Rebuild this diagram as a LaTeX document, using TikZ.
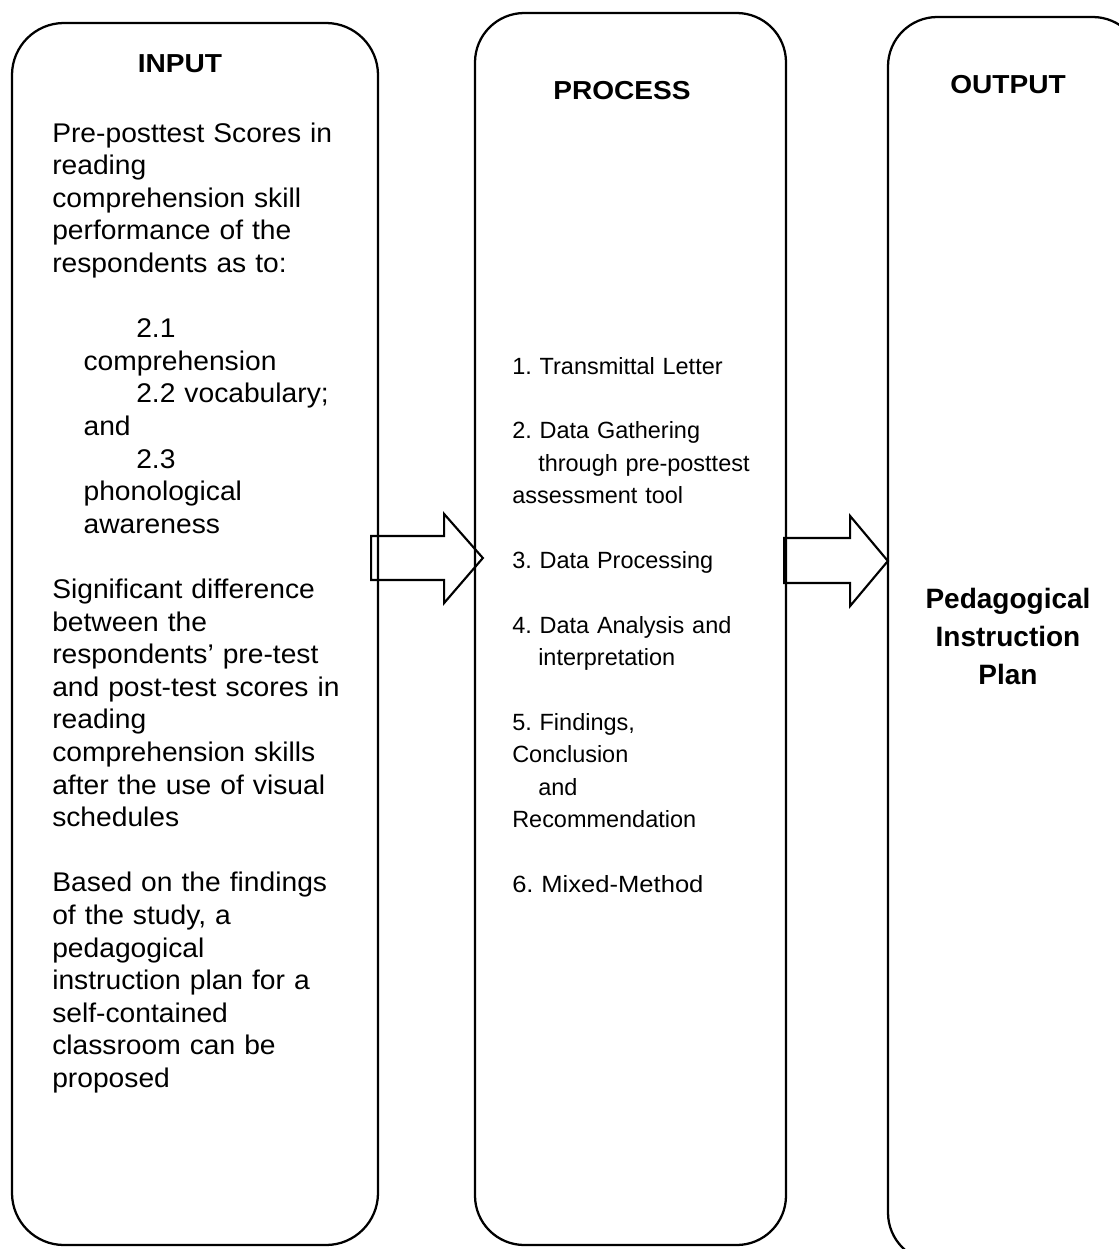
\documentclass[tikz,border=0pt]{standalone}
\usepackage{fontspec}
\setmainfont{Liberation Sans}
\newfontfamily\titlefont[FakeStretch=1.08]{Liberation Sans}
\newfontfamily\inputfont[FakeStretch=1.045]{Liberation Sans}
\usetikzlibrary{calc}
\frenchspacing
\begin{document}
\begin{tikzpicture}[x=0.75pt,y=-0.75pt,
  box/.style={draw=black,line width=1.7pt,rounded corners=39pt,minimum width=#1},
  blockarr/.style={draw=black,line width=1.6pt,line join=miter},
  titletxt/.style={font=\titlefont\bfseries\fontsize{19.5pt}{23pt}\selectfont,inner sep=0pt,anchor=base},
  intext/.style={font=\inputfont\fontsize{20.25pt}{24.45pt}\selectfont,inner sep=0pt,anchor=base west,text width=250pt,align=left},
  proctext/.style={font=\fontsize{17.6pt}{24.3pt}\selectfont,inner sep=0pt,anchor=base west,text width=210pt,align=left},
  outtext/.style={font=\bfseries\fontsize{21pt}{28.5pt}\selectfont,inner sep=0pt,anchor=base,text width=190pt,align=center}]
\useasboundingbox (0,0) rectangle (1119,1249);
\clip (0,0) rectangle (1119,1249);
% boxes
\node[box=274.5pt,minimum height=916.5pt] (inbox) at (195,634) {};
\node[box=233.25pt,minimum height=924pt,rounded corners=37pt] (procbox) at (630.5,629) {};
\node[box=190.5pt,minimum height=933.75pt,rounded corners=37pt] (outbox) at (1015,639.5) {};
% titles
\node[titletxt] (tin) at (180,72) {INPUT};
\node[titletxt] (tproc) at (622,99) {PROCESS};
\node[titletxt] (tout) at (1008,93) {OUTPUT};
% input text
\node[intext] (intxt) at (52,142) {Pre-posttest Scores in\\
reading\\
comprehension skill\\
performance of the\\
respondents as to:\\[24.45pt]
\hspace*{63pt}2.1\\
\hspace*{23.5pt}comprehension\\
\hspace*{63pt}2.2 vocabulary;\\
\hspace*{23.5pt}and\\
\hspace*{63pt}2.3\\
\hspace*{23.5pt}phonological\\
\hspace*{23.5pt}awareness\\[24.45pt]
Significant difference\\
between the\\
respondents’ pre-test\\
and post-test scores in\\
reading\\
comprehension skills\\
after the use of visual\\
schedules\\[24.45pt]
Based on the findings\\
of the study, a\\
pedagogical\\
instruction plan for a\\
self-contained\\
classroom can be\\
proposed};
% process text
\node[proctext] (proctxt) at (512,374) {1. Transmittal Letter\\[24.3pt]
2. Data Gathering\\
\hspace*{19.5pt}through pre-posttest\\
assessment tool\\[24.3pt]
3. Data Processing\\[24.3pt]
4. Data Analysis and\\
\hspace*{19.5pt}interpretation\\[24.3pt]
5. Findings,\\
Conclusion\\
\hspace*{19.5pt}and\\
Recommendation\\[24.3pt]
{\addfontfeature{FakeStretch=1.09}6. Mixed-Method}};
% output text
\node[outtext] (outtxt) at (1008,608) {Pedagogical\\Instruction\\Plan};
% block arrows
\coordinate (a1) at (0,558);
\coordinate (a2) at (0,561);
\coordinate (s1) at ($(inbox.east |- a1)+(-8,0)$);
\coordinate (t1) at ($(procbox.west |- a1)+(9,0)$);
\coordinate (s2) at ($(procbox.east |- a2)+(-3,0)$);
\coordinate (t2) at ($(outbox.west |- a2)+(1,0)$);
\draw[blockarr] ($(s1)+(0,-22)$) -- ($(s1)+(73,-22)$) -- ($(s1)+(73,-44)$)
  -- (t1) -- ($(s1)+(73,45)$) -- ($(s1)+(73,22)$) -- ($(s1)+(0,22)$) -- cycle;
\draw[blockarr] ($(s2)+(0,-23)$) -- ($(s2)+(66,-23)$) -- ($(s2)+(66,-45)$)
  -- (t2) -- ($(s2)+(66,45)$) -- ($(s2)+(66,22)$) -- ($(s2)+(0,22)$) -- cycle;
\end{tikzpicture}
\end{document}
